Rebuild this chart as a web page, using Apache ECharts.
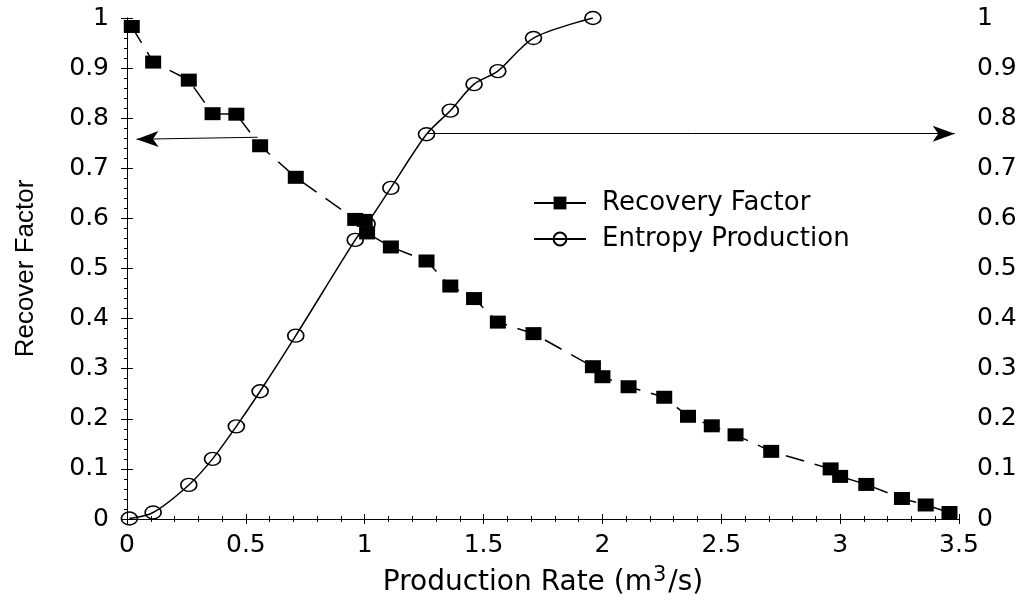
<!DOCTYPE html>
<html>
<head>
<meta charset="utf-8">
<script src="https://cdn.jsdelivr.net/npm/echarts@6/dist/echarts.min.js"></script>
<style>
  html, body { margin: 0; padding: 0; background: #fff; }
  #chart { width: 1026px; height: 603px; }
</style>
</head>
<body>
<div id="chart"></div>
<script>
// 采收率 (左轴)
const rfX = [0.02, 0.11, 0.26, 0.36, 0.46, 0.56, 0.71, 0.96, 1.0, 1.01, 1.11, 1.26, 1.36, 1.46, 1.56,
  1.71, 1.96, 2.0, 2.11, 2.26, 2.36, 2.46, 2.56, 2.71, 2.96, 3.0, 3.11, 3.26, 3.36, 3.46];
const rfY = [0.983, 0.912, 0.876, 0.809, 0.808, 0.745, 0.682, 0.598, 0.596, 0.571, 0.543, 0.515, 0.465, 0.440, 0.393,
  0.370, 0.304, 0.284, 0.264, 0.243, 0.205, 0.186, 0.168, 0.135, 0.100, 0.085, 0.069, 0.041, 0.028, 0.013];
// 熵产 (右轴)
const epX = [0.01, 0.11, 0.26, 0.36, 0.46, 0.56, 0.71, 0.96, 1.01, 1.11, 1.26, 1.36, 1.46, 1.56, 1.71, 1.96];
const epY = [0.001, 0.013, 0.068, 0.120, 0.185, 0.255, 0.366, 0.557, 0.589, 0.661, 0.768, 0.815, 0.868, 0.894, 0.960, 1.0];
// 坐标刻度
const xTicks = [0, 0.5, 1, 1.5, 2, 2.5, 3, 3.5];
const yTicks = [0, 0.1, 0.2, 0.3, 0.4, 0.5, 0.6, 0.7, 0.8, 0.9, 1];
// 箭头 (起点, 终点)
const arrowLeft = [[0.55, 0.762], [0.04, 0.758]];
const arrowRight = [[1.266, 0.769], [3.482, 0.769]];

const seriesNames = ["Recovery Factor", "Entropy Production"];
const font = "DejaVu Sans";
const ellipse = "path://M0,10 A10,10 0 1,1 20,10 A10,10 0 1,1 0,10 Z";

const chart = echarts.init(document.getElementById("chart"));

const baseX = {
  type: "value",
  min: xTicks[0],
  max: xTicks[xTicks.length - 1],
  interval: 0.5,
  splitLine: { show: false },
  axisLine: { lineStyle: { color: "#000", width: 1 } },
  axisTick: { inside: false, length: 5, lineStyle: { color: "#000" } },
  minorTick: { show: true, splitNumber: 5, length: 3, lineStyle: { color: "#000" } },
};
const baseY = {
  type: "value",
  min: yTicks[0],
  max: yTicks[yTicks.length - 1],
  interval: 0.1,
  splitLine: { show: false },
  axisLine: { show: true, lineStyle: { color: "#000", width: 1 } },
  axisTick: { show: true, inside: false, length: 6, lineStyle: { color: "#000" } },
  axisLabel: { color: "#000", fontFamily: font, fontSize: 25, margin: 18 },
};

const option = {
  animation: false,
  backgroundColor: "#fff",
  grid: { left: 127, right: 67, top: 18, bottom: 81 },
  legend: {
    orient: "vertical",
    left: 533,
    top: 190,
    itemWidth: 52,
    itemHeight: 16,
    itemGap: 10,
    padding: 0,
    textStyle: { color: "#000", fontFamily: font, fontSize: 26, padding: [0, 0, 0, 11] },
    data: [
      { name: seriesNames[0], lineStyle: { type: "solid" } },
      { name: seriesNames[1] },
    ],
  },
  xAxis: [
    Object.assign({}, baseX, {
      position: "bottom",
      axisLabel: { color: "#000", fontFamily: font, fontSize: 25, margin: 14 },
      name: "{n|Production Rate (m}{s|3}{n|/s)}",
      nameLocation: "middle",
      nameGap: 46,
      nameTextStyle: {
        rich: {
          n: { fontFamily: font, fontSize: 28, color: "#000", verticalAlign: "bottom", lineHeight: 32 },
          s: { fontFamily: font, fontSize: 21, color: "#000", verticalAlign: "top", lineHeight: 32, padding: [0, 2, 12, 1] },
        },
      },
    }),
    Object.assign({}, baseX, {
      position: "top",
      axisLabel: { show: false },
    }),
  ],
  yAxis: [
    Object.assign({}, baseY, {
      position: "left",
      minorTick: { show: true, splitNumber: 5, length: 3, lineStyle: { color: "#000" } },
      name: "Recover Factor",
      nameLocation: "middle",
      nameRotate: 90,
      nameGap: 88,
      nameTextStyle: { color: "#000", fontFamily: "Liberation Sans", fontSize: 26 },
    }),
    Object.assign({}, baseY, {
      position: "right",
      minorTick: { show: false },
    }),
  ],
  series: [
    {
      name: seriesNames[0],
      type: "line",
      xAxisIndex: 0,
      yAxisIndex: 0,
      data: rfX.map((x, i) => [x, rfY[i]]),
      symbol: "rect",
      symbolSize: [16, 13],
      itemStyle: { color: "#000" },
      lineStyle: { color: "#000", width: 1.5, type: [19, 11] },
      z: 3,
      markLine: {
        silent: true,
        symbol: ["none", "arrow"],
        symbolSize: [12, 22],
        label: { show: false },
        lineStyle: { color: "#000", width: 1, type: "solid" },
        data: [
          [{ coord: arrowLeft[0] }, { coord: arrowLeft[1] }],
          [{ coord: arrowRight[0] }, { coord: arrowRight[1] }],
        ],
      },
    },
    {
      name: seriesNames[1],
      type: "line",
      xAxisIndex: 0,
      yAxisIndex: 1,
      data: epX.map((x, i) => [x, epY[i]]),
      smooth: 0.3,
      symbol: ellipse,
      symbolSize: [16, 13],
      itemStyle: { color: "rgba(255,255,255,0)", borderColor: "#000", borderWidth: 1.5 },
      lineStyle: { color: "#000", width: 1.5, type: "solid" },
      z: 4,
    },
  ],
};

chart.setOption(option);
</script>
</body>
</html>
